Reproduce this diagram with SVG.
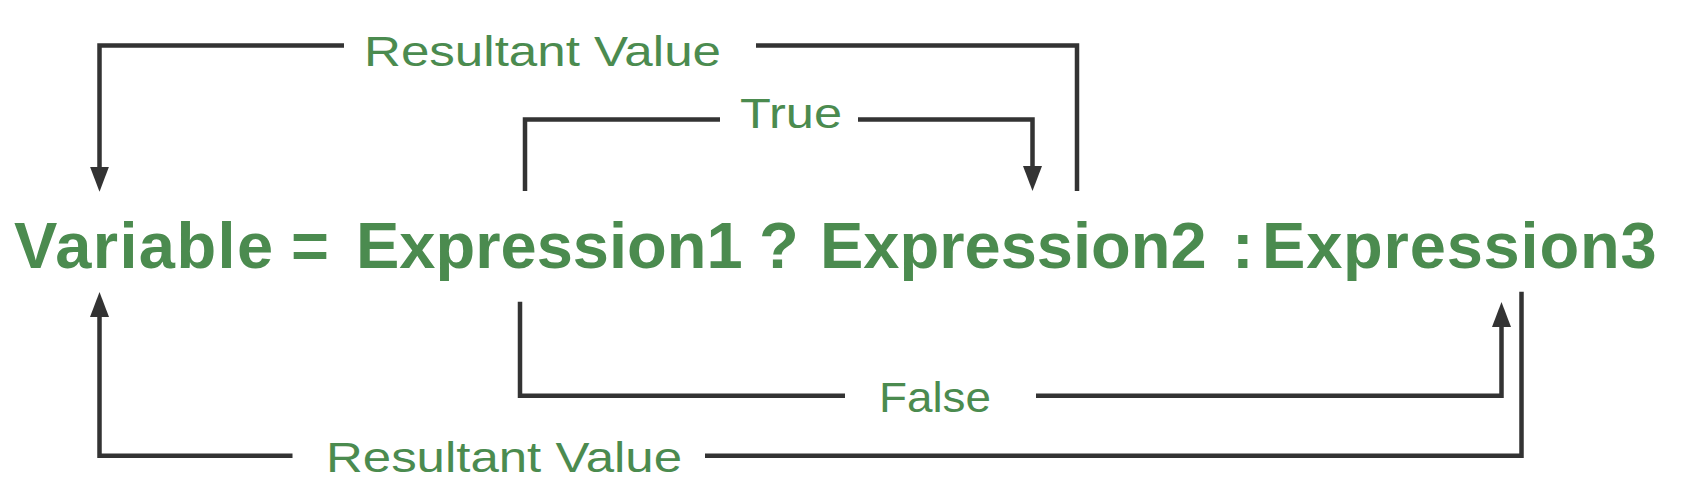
<svg xmlns="http://www.w3.org/2000/svg" width="1694" height="498" viewBox="0 0 1694 498">
  <style>
    .conn { fill: none; stroke: #333333; stroke-width: 4.5; stroke-linejoin: miter; stroke-linecap: butt; }
    .lbl { font-family: "Liberation Sans", Arial, sans-serif; font-size: 43px; fill: #4b8b4f; }
    .expr { font-family: "Liberation Sans", Arial, sans-serif; font-size: 65px; font-weight: bold; fill: #4b8b4f; }
  </style>
  <defs>
    <marker id="arrow" viewBox="0 -10 25 20" markerUnits="userSpaceOnUse" markerWidth="25" markerHeight="20" refX="1" refY="0" orient="auto">
      <path d="M0,-9.5 L25,0 L0,9.5 Z" fill="#333333"/>
    </marker>
  </defs>
  <rect width="1694" height="498" fill="#ffffff"/>

  <g id="connectors">
    <g id="edge-result-top">
      <path class="conn" d="M1077,191 V45.5 H756 M344,45.5 H99.5 V167.7" marker-end="url(#arrow)"/>
      <text class="lbl" x="364" y="66" textLength="357" lengthAdjust="spacingAndGlyphs">Resultant Value</text>
    </g>
    <g id="edge-true">
      <path class="conn" d="M525,191 V119.5 H720 M858,119.5 H1032.5 V167" marker-end="url(#arrow)"/>
      <text class="lbl" x="740" y="128" textLength="102" lengthAdjust="spacingAndGlyphs">True</text>
    </g>
    <g id="edge-false">
      <path class="conn" d="M520,301.7 V395.7 H845 M1036,395.7 H1501.5 V326" marker-end="url(#arrow)"/>
      <text class="lbl" x="879" y="411.5" textLength="112" lengthAdjust="spacingAndGlyphs">False</text>
    </g>
    <g id="edge-result-bottom">
      <path class="conn" d="M1521.5,291.7 V455.7 H705 M292.5,455.7 H99.5 V316" marker-end="url(#arrow)"/>
      <text class="lbl" x="326" y="471.7" textLength="356" lengthAdjust="spacingAndGlyphs">Resultant Value</text>
    </g>
  </g>

  <g id="node-expression">
    <text class="expr" y="268"><tspan x="14" letter-spacing="1.4">Variable </tspan><tspan x="291">= </tspan><tspan x="356">Expression1 </tspan><tspan x="759">? </tspan><tspan x="820">Expression2 </tspan><tspan x="1232">:</tspan><tspan font-size="8"> </tspan><tspan x="1262" letter-spacing="0.8">Expression3</tspan></text>
  </g>
</svg>
